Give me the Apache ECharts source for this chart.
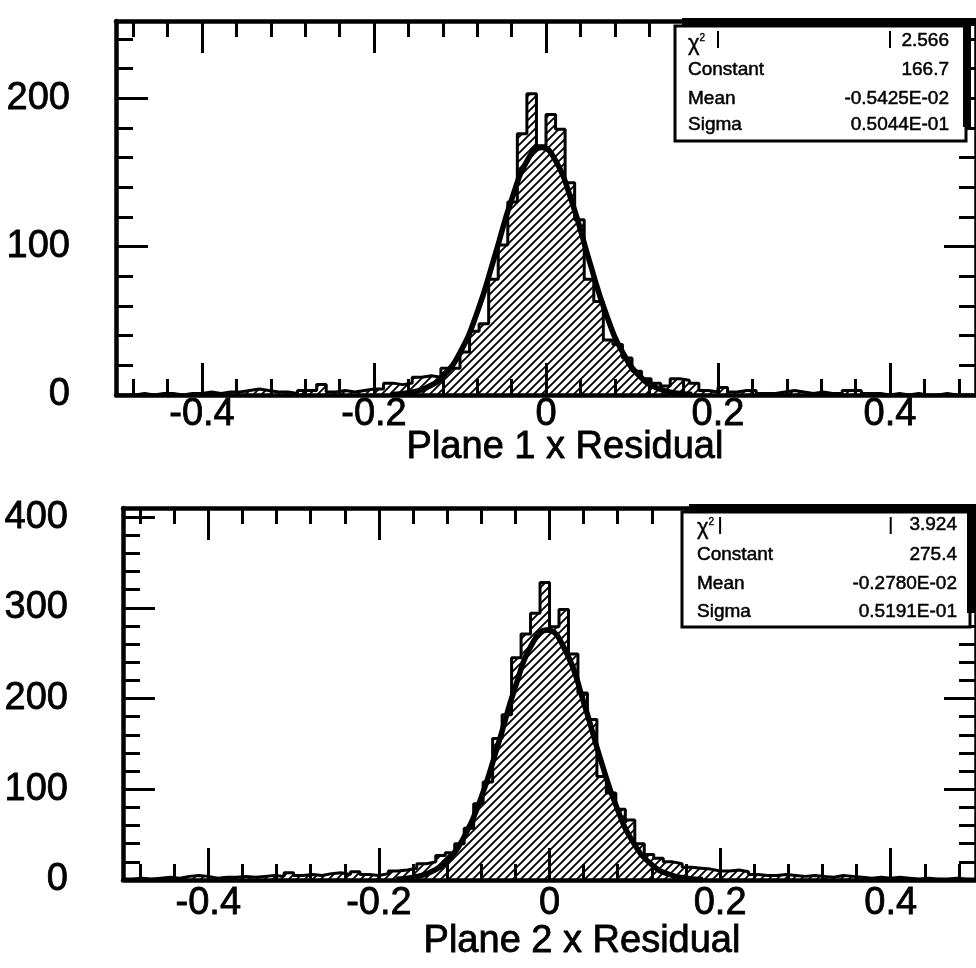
<!DOCTYPE html>
<html><head><meta charset="utf-8">
<script src="https://cdn.jsdelivr.net/npm/echarts@6/dist/echarts.min.js"></script>
<style>html,body{margin:0;padding:0;background:#fff}#c{width:976px;height:968px}</style>
</head><body><div id="c"></div>
<script>
// ---------------- data ----------------
const HIST_MIN = -0.5, HIST_MAX = 0.5, N_BINS = 90;

// Plane 1 x residual: bin contents (90 bins from -0.5 to 0.5)
const plane1Counts = [
  0,0,1,0,1,1,0,1,1,2,
  1,2,2,3,4,3,2,2,1,3,
  3,7,2,3,2,3,4,4,8,7,
  8,12,13,12,18,18,29,43,48,78,
  101,130,176,203,168,189,179,143,118,78,
  63,37,34,25,16,11,8,6,11,10,
  8,3,2,5,2,3,3,1,1,2,
  3,2,1,2,1,1,3,3,1,1,
  0,1,0,1,0,0,1,0,0,0
];
// Plane 2 x residual
const plane2Counts = [
  1,2,1,2,3,2,4,5,4,2,
  3,3,4,3,4,5,4,8,5,6,
  5,7,8,6,9,6,5,7,10,11,
  13,18,20,27,30,40,57,84,108,156,
  182,245,271,294,328,279,298,249,206,177,
  114,96,78,66,40,28,24,20,18,14,
  13,12,10,10,11,9,6,5,5,6,
  5,4,5,4,3,5,4,3,2,3,
  2,3,2,1,2,1,1,2,1,1
];
// fitted curves
const fit1X = [-0.18,-0.16,-0.14,-0.12,-0.10,-0.08,-0.06,-0.04,-0.02,-0.005,0.01,0.03,0.05,0.07,0.09,0.11,0.13,0.15,0.17];
const fit1Y = [0.4,1.5,4.7,12.6,28.6,55.7,92.7,131.7,159.8,166.7,159.1,130.3,91.1,54.4,27.8,12.1,4.5,1.4,0.4];
const fit2X = [-0.18,-0.16,-0.14,-0.12,-0.10,-0.08,-0.06,-0.04,-0.02,-0.003,0.02,0.04,0.06,0.08,0.10,0.12,0.14,0.16,0.18];
const fit2Y = [0.7,2.8,8.4,21.5,47.6,91.1,150.1,213.0,260.7,275.4,250.1,196.0,132.5,77.1,38.7,16.8,6.3,2.0,0.5];

const xMajorTicks = [-0.4,-0.2,0,0.2,0.4];
const xMinorTicks = [-0.48,-0.44,-0.36,-0.32,-0.28,-0.24,-0.16,-0.12,-0.08,-0.04,0.04,0.08,0.12,0.16,0.24,0.28,0.32,0.36,0.44,0.48];
const y1Max = 252;
const y1MajorTicks = [0,100,200];
const y1MinorTicks = [20,40,60,80,120,140,160,180,220,240];
const y2Max = 410;
const y2MajorTicks = [0,100,200,300,400];
const y2MinorTicks = [20,40,60,80,120,140,160,180,220,240,260,280,320,340,360,380];

const statNames = ['χ','Constant','Mean','Sigma'];
const stats1 = ['2.566','166.7','-0.5425E-02','0.5044E-01'];
const stats2 = ['3.924','275.4','-0.2780E-02','0.5191E-01'];
const xTitles = ['Plane 1 x Residual','Plane 2 x Residual'];

// ---------------- chart ----------------
const FONT = "'Liberation Sans', Arial, Helvetica, sans-serif";
const chart = echarts.init(document.getElementById('c'), null, {renderer:'canvas'});

function hatchCanvas(){
  const c = document.createElement('canvas'); c.width = 8; c.height = 8;
  const g = c.getContext('2d');
  g.strokeStyle = '#000'; g.lineWidth = 1.9;
  g.beginPath();
  g.moveTo(-1,9); g.lineTo(9,-1);
  g.moveTo(-1,1); g.lineTo(1,-1);
  g.moveTo(7,9); g.lineTo(9,7);
  g.stroke();
  return c;
}
const HATCH = hatchCanvas();

function histData(counts){
  const w = (HIST_MAX-HIST_MIN)/N_BINS;
  const d = counts.map((v,k)=>[HIST_MIN+k*w, v]);
  d.push([HIST_MAX, counts[counts.length-1]]);
  return d;
}
const lineOn = {show:true, onZero:false, lineStyle:{color:'#000', width:4.5}};
const lineOff = {show:false, onZero:false};
const tick = (vals,len)=>({show:true, inside:true, length:len, customValues:vals, lineStyle:{color:'#000', width:3}});
const labelStyle = {fontSize:38, fontFamily:FONT, color:'#000', textBorderColor:'#000', textBorderWidth:0.8};

function xAxesFor(gi, margin){
  const c = {type:'value', gridIndex:gi, min:HIST_MIN, max:HIST_MAX, splitLine:{show:false}};
  return [
    Object.assign({}, c, {position:'bottom', axisLine:lineOn, axisTick:tick(xMajorTicks,32),
      axisLabel:Object.assign({show:true, customValues:xMajorTicks, margin:margin, formatter:v=>String(v)}, labelStyle)}),
    Object.assign({}, c, {position:'bottom', axisLine:lineOff, axisTick:tick(xMinorTicks,16), axisLabel:{show:false}}),
    Object.assign({}, c, {position:'top', axisLine:lineOn, axisTick:tick(xMajorTicks,32), axisLabel:{show:false}}),
    Object.assign({}, c, {position:'top', axisLine:lineOff, axisTick:tick(xMinorTicks,16), axisLabel:{show:false}})
  ];
}
function yAxesFor(gi, max, major, minor, margin){
  const c = {type:'value', gridIndex:gi, min:0, max:max, splitLine:{show:false}};
  return [
    Object.assign({}, c, {position:'left', axisLine:lineOn, axisTick:tick(major,32),
      axisLabel:Object.assign({show:true, customValues:major, margin:margin, formatter:v=>String(v)}, labelStyle)}),
    Object.assign({}, c, {position:'left', axisLine:lineOff, axisTick:tick(minor,17), axisLabel:{show:false}}),
    Object.assign({}, c, {position:'right', axisLine:lineOn, axisTick:tick(major,32), axisLabel:{show:false}}),
    Object.assign({}, c, {position:'right', axisLine:lineOff, axisTick:tick(minor,17), axisLabel:{show:false}})
  ];
}
function histSeries(counts, ai){
  return {type:'line', xAxisIndex:ai, yAxisIndex:ai, data:histData(counts), step:'end', symbol:'none',
    lineStyle:{color:'#000', width:3}, areaStyle:{color:{image:HATCH, repeat:'repeat'}, opacity:1}, z:2, silent:true};
}
function fitSeries(xs, ys, ai){
  return {type:'line', xAxisIndex:ai, yAxisIndex:ai, data:xs.map((x,i)=>[x,ys[i]]), smooth:true, symbol:'none',
    lineStyle:{color:'#000', width:5.5}, z:3, silent:true};
}

chart.setOption({
  animation:false,
  backgroundColor:'#fff',
  grid:[
    {left:116, top:21, width:867, height:374},
    {left:123, top:508, width:868, height:372}
  ],
  xAxis: xAxesFor(0, 1).concat(xAxesFor(1, 5)),
  yAxis: yAxesFor(0, y1Max, y1MajorTicks, y1MinorTicks, 46).concat(yAxesFor(1, y2Max, y2MajorTicks, y2MinorTicks, 55)),
  series:[
    histSeries(plane1Counts, 0), fitSeries(fit1X, fit1Y, 0),
    histSeries(plane2Counts, 4), fitSeries(fit2X, fit2Y, 4)
  ]
});

function statBox(box, names, vals, tickXs){
  const els = [];
  const tfont = '19px '+FONT;
  els.push({type:'rect', z:100, shape:{x:box.x, y:box.y, width:box.w, height:box.h}, style:{fill:'#fff', stroke:'#000', lineWidth:3}});
  els.push({type:'rect', z:101, shape:{x:box.x+7, y:box.y-8, width:box.w+4, height:8}, style:{fill:'#000'}});
  els.push({type:'rect', z:101, shape:{x:box.x+box.w-3, y:box.y-8, width:8, height:box.h-6}, style:{fill:'#000'}});
  tickXs.forEach(tx=>{
    els.push({type:'line', z:102, shape:{x1:tx, y1:box.y+5, x2:tx, y2:box.y+22}, style:{stroke:'#000', lineWidth:2}});
  });
  names.forEach((n,i)=>{
    if (i === 0) {
      els.push({type:'text', z:103, x:box.lx, y:box.rows[i]+3, style:{text:'{c|χ}{s|2}', rich:{c:{font:'22px '+FONT, fill:'#000'}, s:{font:'10px '+FONT, fill:'#000', verticalAlign:'top', padding:[0,0,12,0]}}, fill:'#000', textAlign:'left', textVerticalAlign:'middle', stroke:'#000', lineWidth:0.4}});
    } else {
      els.push({type:'text', z:103, x:box.lx, y:box.rows[i], style:{text:n, fill:'#000', font:tfont, textAlign:'left', textVerticalAlign:'middle', stroke:'#000', lineWidth:0.5}});
    }
    els.push({type:'text', z:103, x:box.rx, y:box.rows[i], style:{text:vals[i], fill:'#000', font:tfont, textAlign:'right', textVerticalAlign:'middle', stroke:'#000', lineWidth:0.5}});
  });
  return els;
}
const t1 = [0.2,0.4].map(v=>chart.convertToPixel({xAxisIndex:0}, v));
const t2 = [0.2,0.4].map(v=>chart.convertToPixel({xAxisIndex:4}, v));
const graphic = []
  .concat(statBox({x:675, y:26, w:291, h:115, lx:688, rx:949, rows:[41,70,99,125]}, statNames, stats1, t1))
  .concat(statBox({x:682, y:512, w:288, h:115, lx:697, rx:957, rows:[525,555,584,612]}, statNames, stats2, t2))
  .concat([
    {type:'text', x:565, y:448, style:{text:xTitles[0], fill:'#000', font:'38px '+FONT, textAlign:'center', textVerticalAlign:'middle', stroke:'#000', lineWidth:0.8}},
    {type:'text', x:582, y:942, style:{text:xTitles[1], fill:'#000', font:'38px '+FONT, textAlign:'center', textVerticalAlign:'middle', stroke:'#000', lineWidth:0.8}}
  ]);
chart.setOption({graphic: graphic});
</script>
</body></html>
